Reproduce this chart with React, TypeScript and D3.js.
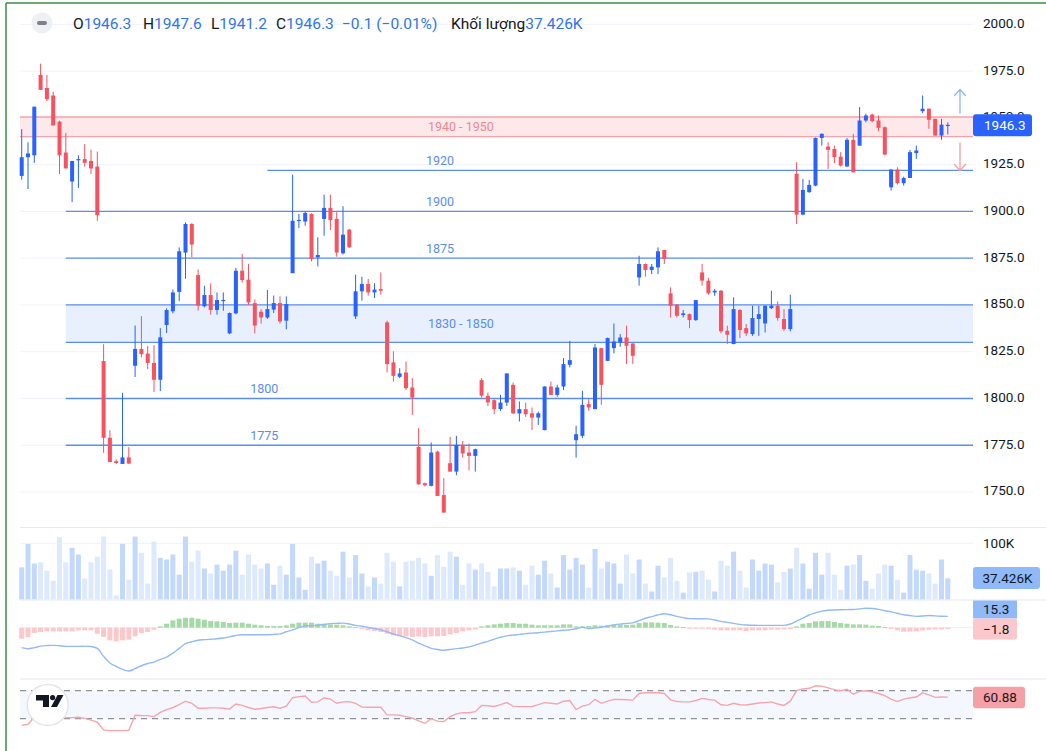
import React from "react";
import * as d3 from "d3";

// ---------- DATA ----------
const OPEN = [1919,1929,1930,1973,1966,1962,1948,1931.5,1916,1927.5,1928,1927,1924,1820,1779,1766.5,1765,1768.5,1817.5,1826.5,1824,1819,1810,1839.3,1846.6,1857,1878,1893.3,1866,1849.3,1855.3,1847.3,1852.3,1834.8,1845.5,1868.3,1863.5,1851,1846.4,1843.3,1847.5,1851,1841.6,1867,1895,1894.6,1898.7,1875.5,1896,1901.9,1896,1877.6,1890.3,1843.9,1857.3,1861.2,1856.7,1858.5,1840.7,1819.3,1811.6,1813.9,1805.9,1774.1,1754.7,1753.3,1771.6,1748.4,1765.4,1760.9,1775.2,1771.1,1769.3,1809.8,1801.4,1799.1,1794.3,1797.8,1807.3,1792,1794.3,1792.1,1789.8,1783.1,1806.4,1801.9,1806.4,1818,1777.7,1780,1797,1794.3,1826.9,1820.1,1826.9,1830,1832.6,1829.4,1864.7,1871.9,1868.7,1870.1,1879.4,1856.2,1850.1,1844.6,1845.1,1841.9,1867.4,1863,1856.7,1857.6,1836.2,1829.1,1847.3,1837.6,1834.4,1842.5,1840.1,1848.3,1849.6,1842.5,1837.1,1920.1,1898.3,1910.3,1913.8,1939.3,1934.7,1933.4,1929.3,1924,1938.3,1935.2,1948.6,1951.8,1948.6,1945,1912.9,1922.4,1915.1,1917.9,1931.2,1953.6,1954.9,1949.5,1940.6,1946.3];
const HIGH = [1944,1937,1956,1979,1973,1964,1948.5,1942,1927,1930,1936,1933,1932,1829,1783,1767.5,1803,1774,1839,1844,1828,1828.5,1837.6,1848.2,1858.2,1880.8,1894.2,1893.7,1869,1860.3,1861.5,1856.7,1856.7,1846,1869.8,1877.3,1872,1853,1847.8,1858,1855,1854.6,1854.6,1919.7,1898.7,1900.1,1899,1886.2,1909,1909,1899.6,1902.8,1890.7,1866.2,1865.1,1863.9,1861.6,1867.4,1841.6,1825.2,1816.2,1819.8,1810.9,1784.1,1755,1776.5,1772,1757.4,1779.5,1780,1777.3,1775.9,1773.2,1810.9,1803.2,1799.5,1802,1813.5,1808.5,1798.4,1797.8,1795.2,1793,1806.5,1809.1,1807.3,1821.6,1830.8,1785.4,1804.1,1799.6,1829.1,1827,1832.6,1840.1,1834.4,1838.9,1829.5,1876.3,1872.2,1871.9,1880.8,1879.5,1859.4,1850.5,1847.3,1845.5,1852.7,1871.9,1864.4,1858.5,1858,1838.9,1854.1,1847.8,1839.8,1849.6,1849.6,1849.7,1857.6,1851.9,1847.8,1855.5,1926.3,1917.4,1916.9,1939.5,1941.7,1937,1935.2,1931.7,1939.3,1941.5,1955.8,1952.2,1952.2,1951.3,1945.4,1922.5,1923.6,1918.6,1932.9,1935.2,1962,1955,1949.6,1949.5,1947.6];
const LOW = [1917,1912,1926,1965,1959,1946,1920,1923,1905,1912.5,1924,1920,1895,1771,1766,1765,1765,1765,1811.5,1822,1815.7,1803.5,1804,1835,1845.5,1852,1864,1875.5,1847,1848.7,1844.8,1844.8,1846.9,1834.4,1845,1862,1850,1834.8,1840,1842.5,1845.7,1840,1837,1867,1891.2,1892.4,1873.3,1870.6,1887,1890.1,1875.8,1877,1880.5,1842.5,1852.3,1855,1853.7,1855.5,1813.9,1809,1810.9,1804.5,1791.2,1754,1753,1753,1747.9,1739,1760.9,1759,1768.4,1761.6,1760.9,1800.5,1796,1791.6,1793.4,1796,1792,1787.7,1790.2,1783.1,1785.9,1783,1801.9,1800.9,1804.5,1816.6,1768.4,1778.8,1793.4,1794.3,1796.6,1820,1824.1,1827.6,1818.4,1818.4,1860.3,1865.1,1866.5,1866.5,1871.9,1843.3,1843.3,1843.3,1837.6,1841.5,1860.3,1855.5,1854.9,1834.8,1829.1,1829,1832.3,1833.5,1833.5,1833.5,1835.3,1847.8,1841.6,1836.2,1835.9,1893.3,1898,1910,1913.5,1935.2,1922.7,1925.8,1924,1924,1920.9,1935,1947.7,1947.7,1942.9,1930,1911.2,1914.4,1913.8,1917.9,1928.1,1952.5,1944.2,1940.4,1938.3,1941.2];
const CLOSE = [1929,1931,1956,1965,1960,1946,1930,1923,1927,1928,1926,1923,1898,1779,1766,1765.5,1768.5,1765.2,1826.5,1823.7,1819,1810,1832.7,1847.3,1856.7,1878.7,1893.3,1882.3,1849.6,1855.3,1847.3,1852.6,1852.7,1845.7,1868.3,1863.3,1851.4,1839,1843.3,1847.8,1851,1841.2,1850.5,1895,1895.5,1899.2,1874.6,1876.7,1901.9,1895.4,1878,1887.6,1880.8,1857.3,1861.2,1856.7,1858.2,1857.6,1818.4,1812.1,1813.4,1805.5,1800.5,1754.1,1753.6,1771.1,1747.9,1739,1760.9,1775.2,1770.6,1769.3,1772.9,1801.5,1797.9,1794.3,1797.8,1813.4,1792,1794.3,1791.6,1789.8,1792.1,1806.4,1801.9,1805.9,1818.4,1820.5,1780.9,1796.6,1795.2,1827.3,1807.3,1832.3,1830.5,1832.6,1828.2,1822.8,1871.9,1868.7,1870.5,1878.7,1874.6,1849.6,1844.2,1845.5,1841.9,1852.6,1863,1856.2,1857.6,1835.9,1834.1,1847.8,1836.6,1834.8,1843,1845.1,1849.6,1849.6,1843,1837.1,1847.8,1898.3,1911.5,1914.2,1939.3,1941.5,1932.9,1929,1924.5,1938.3,1920.9,1948.6,1951.3,1948.3,1944.7,1930.4,1922.4,1915.1,1917.9,1931.7,1932.6,1954.9,1949,1940.6,1946.4,1946.3];
const VOLUME_K = [57,99,64,66,51,33,111,66,92,80,37,66,76,112,53,7,99,35,112,83,28,103,74,71,80,44,112,67,87,55,46,62,51,62,87,44,80,62,55,64,26,60,44,99,39,17,76,64,69,51,42,85,39,79,46,23,39,28,83,67,23,67,69,74,64,42,79,58,85,76,26,64,53,64,49,23,55,55,57,51,26,60,44,69,46,21,79,53,74,62,21,90,55,67,64,28,80,46,71,28,14,60,39,74,33,12,48,49,51,35,14,69,60,85,51,21,71,51,64,62,30,49,55,92,64,19,83,44,83,44,17,60,62,79,33,19,46,62,60,35,12,79,53,51,46,28,71,37.426];
const MACD_LINE = [-27,-28.4,-27,-25,-24.2,-23.9,-24.5,-25.3,-25.3,-25.3,-25,-25.5,-28,-38.8,-47.8,-52.5,-56.5,-58.6,-55.5,-51.5,-48.5,-46.5,-43,-39.7,-34.5,-28,-21.5,-19,-17,-16.2,-15.6,-15,-14,-12.4,-10.5,-9.5,-9.5,-9.5,-9.5,-9.5,-9,-8.4,-5.5,-3,0,2.4,2.8,3.4,4.5,5.5,5.9,6.2,5,3.1,2,0.3,-1,-2.8,-5.5,-8.5,-10.8,-13.5,-16.5,-21,-24.5,-28,-29.5,-30.5,-29.5,-28.4,-27.5,-26,-23.5,-20.8,-18.5,-15.5,-13,-11,-10,-9.1,-8,-7.4,-6.8,-6,-5.1,-4.3,-3.5,-2.7,-1.5,0.6,-1.2,-0.3,0.6,2.2,3.9,4.9,5.6,6.6,9.5,12.8,15,17.5,18.9,17.5,15.3,13.7,12.3,12.1,12.1,12,10.5,8.5,7.2,5.8,4.5,3.6,3.3,3.1,3.1,3.1,3.1,3.1,5,9,13,17.2,20,22.5,23.6,24,24.3,24.5,24.7,25.5,26.3,26,24.8,23,21.4,19.5,17.5,16.5,15.4,15.8,16.6,16,15.6,15.3];
const MACD_HIST = [-14.9,-12.6,-7.2,-5.9,-5,-5,-5,-5,-5,-3.6,-3.6,-3.6,-8.1,-12.6,-17.1,-18.5,-17.1,-16.2,-11.7,-7.2,-5.9,-2.7,1.8,5.4,9.9,12.2,13.5,13.5,12.2,10.8,9,8.6,7.7,6.3,6.8,6.8,5.4,4.1,3.2,2.3,2.3,2.3,3.2,5.4,6.8,6.8,6.8,5.4,5.4,4.5,4.1,3.2,1.8,0.9,-1.8,-3.6,-4.5,-5.9,-8.1,-10.4,-11.7,-11.7,-12.6,-11.7,-12.6,-11.7,-11.7,-11.3,-9,-7.2,-5,-3.6,-2.3,1.8,3.2,4.5,5.4,6.3,6.3,5.4,5.4,4.1,3.2,3.2,3.2,3.2,4.5,4.5,1.8,1.8,2.3,3.2,2.7,3.2,4.1,4.1,3.6,4.1,6.3,7.2,7.2,6.8,6.3,3.6,1.8,0.9,-1.4,-1.4,-1.4,-1.8,-2.7,-3.6,-3.6,-3.6,-3.6,-4.5,-3.6,-3.6,-3.6,-2.7,-2.7,-2.3,-1.8,1.8,5.4,6.3,8.6,9,9,7.7,6.3,5.4,4.5,4.5,4.1,2.7,2.3,0.9,-1.8,-3.6,-5.4,-5.4,-5,-3.6,-2.7,-2.3,-2.3,-1.8];
const RSI = [20.5,22,32,31.5,31.5,31,31,31.5,31.5,32,30.5,28,25,14,13,13,13,13.4,35,34.6,34.4,33,39,43,46,50,55,52,45,45,45.5,45.5,45,44,51,49,46,43.5,44.5,46,47,45,48,60,61.5,62.4,53.4,54,60,58,52,54,54.4,52,46.5,46.3,46.3,46.3,35.5,35.5,35,33,31,27,23.4,30,26.5,25.8,33,37,38.6,38.6,40,49,48.5,47.5,50,53,48,47.2,47.2,47.5,50,53,52,51,55,56,43,48,50,57.7,52,55,57.5,57.5,57,56.5,66,67,67.2,67,66,57,54.5,54,54,56,59,57.5,56.5,50,49,52,50,49.5,51,52.5,53,54,51,49,55,70,72.5,73.4,77,76.5,74,71.5,70,72,65,69,70,68.5,66,63,58,54.5,58,60,61,67,64,60.5,61,60.88];

const PRICE_TICKS = [2000, 1975, 1950, 1925, 1900, 1875, 1850, 1825, 1800, 1775, 1750];
const LEVEL_PRICES = [1922, 1900, 1875, 1800, 1775];
const LEVEL_LABELS = ["1920", "1900", "1875", "1800", "1775"];
const LEVEL_START_BAR = [39, 7, 7, 7, 7];
const LEVEL_LABEL_BAR = [66.4, 66.4, 66.4, 38.5, 38.5];
const ZONE_LOW = [1940, 1830];
const ZONE_HIGH = [1950.5, 1850];
const ZONE_LABELS = ["1940 - 1950", "1830 - 1850"];
const ZONE_START_BAR = [-0.27, 7];
const ZONE_LABEL_BAR = [69.7, 69.7];
const ZONE_KIND = ["red", "blue"];
const LAST_PRICE = 1946.3;
const LAST_VOLUME = "37.426K";
const LAST_MACD = "15.3";
const LAST_HIST = "\u22121.8";
const LAST_RSI = "60.88";

const HEADER = [
  { k: "O", v: "1946.3" },
  { k: "H", v: "1947.6" },
  { k: "L", v: "1941.2" },
  { k: "C", v: "1946.3" },
];

// ---------- LAYOUT ----------
const W = 1046, H = 751;
const PL = 20, PR = 973;
const FONT = "Roboto, 'Liberation Sans', Arial, sans-serif";
const UP = "#2962ff", DOWN = "#f7525f";
const LVL = "#5b8def";
const TXT = "#131722";

export default function App() {
  const n = OPEN.length;
  const x = d3.scaleLinear().domain([0, n - 1]).range([21.7, 947.8]);
  const y = d3.scaleLinear().domain([1750, 2000]).range([492, 24.4]);
  const yv = d3.scaleLinear().domain([0, 100]).range([599.3, 543.3]);
  const ym = d3.scaleLinear().domain([0, 15.3]).range([627.7, 616.4]);
  const yr = d3.scaleLinear().domain([30, 70]).range([718.7, 690.7]);

  const macdPath = d3.line<number>().x((_, i) => x(i)).y((d) => ym(d)).curve(d3.curveMonotoneX)(MACD_LINE) || "";
  const rsiPath = d3.line<number>().x((_, i) => x(i)).y((d) => yr(d))(RSI) || "";

  const headerX = [73, 143, 211, 276];

  return (
    <svg width={W} height={H} style={{ position: "fixed", left: 0, top: 0, background: "#fff" }} fontFamily={FONT}>
      <rect x={0} y={0} width={W} height={H} fill="#ffffff" />
      {/* frame */}
      <line x1={6} x2={6} y1={3} y2={H} stroke="#3f8a45" strokeWidth={1.5} />
      <line x1={6} x2={W} y1={3} y2={3} stroke="#3f8a45" strokeWidth={1.5} />

      {/* price grid */}
      {PRICE_TICKS.map((t) => (
        <line key={"g" + t} x1={PL} x2={PR} y1={y(t)} y2={y(t)} stroke="#f0f3fa" strokeWidth={1} />
      ))}

      {/* zones */}
      {ZONE_LOW.map((lo, i) => {
        const hi = ZONE_HIGH[i];
        const red = ZONE_KIND[i] === "red";
        const x0 = Math.max(PL, x(ZONE_START_BAR[i]));
        const stroke = red ? "#f5a2a9" : LVL;
        return (
          <g key={"z" + i}>
            <rect x={x0} y={y(hi)} width={PR - x0} height={y(lo) - y(hi)} fill={red ? "#fde8ea" : "#e8f0fd"} />
            <line x1={x0} x2={PR} y1={y(hi)} y2={y(hi)} stroke={stroke} strokeWidth={1.3} />
            <line x1={x0} x2={PR} y1={y(lo)} y2={y(lo)} stroke={stroke} strokeWidth={1.3} />
            <text x={x(ZONE_LABEL_BAR[i])} y={(y(hi) + y(lo)) / 2} dy="0.36em" textAnchor="middle" fontSize={12.5} fill={red ? "#ef8790" : LVL}>
              {ZONE_LABELS[i]}
            </text>
          </g>
        );
      })}

      {/* level lines */}
      {LEVEL_PRICES.map((p, i) => (
        <g key={"l" + i}>
          <line x1={x(LEVEL_START_BAR[i])} x2={PR} y1={y(p)} y2={y(p)} stroke={LVL} strokeWidth={1.3} />
          <text x={x(LEVEL_LABEL_BAR[i])} y={y(p) - 5} textAnchor="middle" fontSize={12.5} fill={LVL}>
            {LEVEL_LABELS[i]}
          </text>
        </g>
      ))}

      {/* candles */}
      {OPEN.map((o, i) => {
        const c = CLOSE[i];
        const up = c >= o;
        const col = up ? UP : DOWN;
        const cx = x(i);
        const top = y(Math.max(o, c));
        const bot = y(Math.min(o, c));
        return (
          <g key={"c" + i}>
            <rect x={cx - 0.5} y={y(HIGH[i])} width={1} height={Math.max(1, y(LOW[i]) - y(HIGH[i]))} fill={col} />
            <rect x={cx - 2} y={top} width={4} height={Math.max(1.2, bot - top)} fill={col} />
          </g>
        );
      })}

      {/* long/short arrows */}
      <g fill="none" strokeWidth={1.3} strokeLinecap="round">
        <path d="M960 113 V90 M954.5 95.5 L960 89.5 L965.5 95.5" stroke="#8db6f6" />
        <path d="M960 143 V170 M954.5 164.5 L960 170.5 L965.5 164.5" stroke="#f4a0a6" />
      </g>

      {/* price axis */}
      {PRICE_TICKS.map((t) => (
        <text key={"t" + t} x={983} y={y(t) - 1.5} dy="0.36em" fontSize={13.5} fill={TXT}>
          {t.toFixed(1)}
        </text>
      ))}
      <rect x={973} y={y(LAST_PRICE) - 10.5} width={59} height={22} rx={3} fill={UP} />
      <text x={984} y={y(LAST_PRICE) + 0.5} dy="0.36em" fontSize={13.5} fill="#ffffff">
        {LAST_PRICE.toFixed(1)}
      </text>

      {/* header */}
      <circle cx={42} cy={23} r={10.5} fill="#eef0f4" />
      <rect x={37} y={21} width={10} height={4} rx={2} fill="#7d808a" />
      <text y={29} fontSize={15.5}>
        {HEADER.map((h, i) => (
          <tspan key={h.k} x={headerX[i]}>
            <tspan fill={TXT}>{h.k}</tspan>
            <tspan fill="#3274f0">{h.v}</tspan>
          </tspan>
        ))}
        <tspan x={342} fill="#3274f0">{"\u22120.1 (\u22120.01%)"}</tspan>
        <tspan x={451} fill={TXT}>Khối lượng</tspan>
        <tspan fill="#3274f0">{LAST_VOLUME}</tspan>
      </text>

      {/* pane separators */}
      <line x1={PL} x2={W} y1={527.5} y2={527.5} stroke="#e6e8ee" strokeWidth={1.2} />
      <line x1={PL} x2={W} y1={600} y2={600} stroke="#e6e8ee" strokeWidth={1.2} />
      <line x1={PL} x2={W} y1={679} y2={679} stroke="#e6e8ee" strokeWidth={1.2} />

      {/* volume */}
      <line x1={PL} x2={PR} y1={yv(100)} y2={yv(100)} stroke="#f0f3fa" />
      {VOLUME_K.map((v, i) => {
        const up = CLOSE[i] >= OPEN[i];
        return (
          <rect key={"v" + i} x={x(i) - 2.5} y={yv(v)} width={5} height={yv(0) - yv(v)} fill={up ? "#c3d9fb" : "#dde9fd"} />
        );
      })}
      <text x={983} y={yv(100)} dy="0.36em" fontSize={13.5} fill={TXT}>100K</text>
      <rect x={973} y={567} width={67} height={22} rx={3} fill="#8fb9f8" />
      <text x={982.5} y={578} dy="0.36em" fontSize={13.5} fill={TXT}>{LAST_VOLUME}</text>

      {/* MACD */}
      <line x1={PL} x2={PR} y1={ym(0)} y2={ym(0)} stroke="#eceef2" />
      {MACD_HIST.map((v, i) => (
        <rect key={"h" + i} x={x(i) - 2.5} y={Math.min(ym(v), ym(0))} width={5} height={Math.max(0.8, Math.abs(ym(v) - ym(0)))} fill={v >= 0 ? "#a6d9a8" : "#fcc8cc"} />
      ))}
      <path d={macdPath} fill="none" stroke="#92bbf6" strokeWidth={1.4} />
      <rect x={973} y={600.5} width={44} height={18} fill="#8fb9f8" />
      <text x={983} y={609.5} dy="0.36em" fontSize={13.5} fill={TXT}>{LAST_MACD}</text>
      <rect x={973} y={618.5} width={44} height={21} rx={2} fill="#fcc8cc" />
      <text x={983} y={629} dy="0.36em" fontSize={13.5} fill={TXT}>{LAST_HIST}</text>

      {/* RSI */}
      <rect x={PL} y={yr(70)} width={PR - PL} height={yr(30) - yr(70)} fill="#f4f8fe" />
      <line x1={PL} x2={PR} y1={yr(70)} y2={yr(70)} stroke="#8f929b" strokeDasharray="6 5" strokeWidth={1.2} />
      <line x1={PL} x2={PR} y1={yr(30)} y2={yr(30)} stroke="#8f929b" strokeDasharray="6 5" strokeWidth={1.2} />
      <path d={rsiPath} fill="none" stroke="#f5a6ab" strokeWidth={1.4} />
      <rect x={973} y={686.8} width={52} height={21.5} rx={3} fill="#f4a0a6" />
      <text x={983} y={697.5} dy="0.36em" fontSize={13.5} fill={TXT}>{LAST_RSI}</text>

      {/* TradingView logo */}
      <circle cx={47.7} cy={705} r={20.5} fill="#ffffff" stroke="#e3e5ea" strokeWidth={1.5} />
      <path d="M36 695 H49 V707 H43 V700.5 H36 Z" fill="#131722" />
      <circle cx={52.6} cy={697.6} r={2.6} fill="#131722" />
      <path d="M57.5 695 H63.5 L57 707 H51 Z" fill="#131722" />
    </svg>
  );
}
